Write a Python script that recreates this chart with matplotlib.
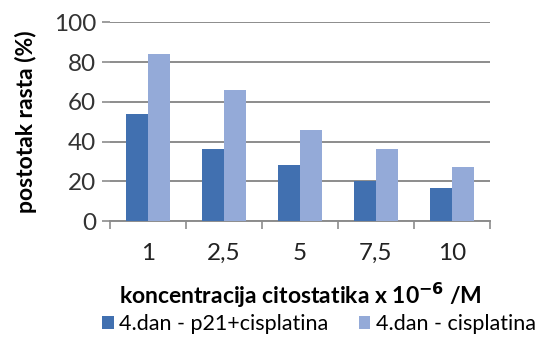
import matplotlib
matplotlib.use('Agg')
import matplotlib.pyplot as plt
import numpy as np

# --- data ---
categories = ['1', '2,5', '5', '7,5', '10']
p21_cis = [54, 36, 28, 20, 16.5]
cis_only = [84, 66, 46, 36, 27]
series_names = ['4.dan - p21+cisplatina', '4.dan - cisplatina']

DARK = '#4170b0'
LIGHT = '#94aad8'
GRID = '#8c8c8c'

plt.rcParams['font.family'] = ['Lato', 'DejaVu Sans']

fig = plt.figure(figsize=(5.45, 3.37), dpi=100)
ax = fig.add_axes([0.202, 0.344, 0.697, 0.59])

x = np.arange(len(categories))
w = 0.29
ax.bar(x - w / 2, p21_cis, width=w, color=DARK, label=series_names[0], zorder=3)
ax.bar(x + w / 2, cis_only, width=w, color=LIGHT, label=series_names[1], zorder=3)

ax.set_xlim(-0.5, len(categories) - 0.5)
ax.set_ylim(0, 100)
ax.set_yticks(np.arange(0, 101, 20))
ax.yaxis.grid(True, color=GRID, lw=1.4, zorder=0)
ax.set_axisbelow(True)

for s in ['top', 'right', 'left']:
    ax.spines[s].set_visible(False)
ax.spines['bottom'].set_color(GRID)
ax.spines['bottom'].set_linewidth(1.4)

ax.set_xticks(x)
ax.set_xticklabels(categories)
ax.set_xticks(np.arange(-0.5, len(categories), 1.0), minor=True)
ax.tick_params(axis='x', which='major', length=0, labelsize=17.5, pad=16, colors='#222222')
ax.tick_params(axis='x', which='minor', length=6, color=GRID, width=1.2)
ax.tick_params(axis='y', length=6, color=GRID, width=1.2, labelsize=17.5,
               labelcolor='#333333', pad=4)

ax.set_ylabel('postotak rasta (%)', fontsize=16.5, fontweight='bold', labelpad=12)
ax.set_xlabel('koncentracija citostatika x 10$^{\\mathbf{-6}}$ /M', fontsize=16.5,
              fontweight='bold', labelpad=12)

fig.legend(loc='lower center', bbox_to_anchor=(0.585, -0.05), ncol=2, frameon=False,
           fontsize=15.5, handlelength=0.55, handleheight=0.55, handletextpad=0.25,
           columnspacing=1.4)

plt.savefig('out.png', dpi=100)
plt.close()
